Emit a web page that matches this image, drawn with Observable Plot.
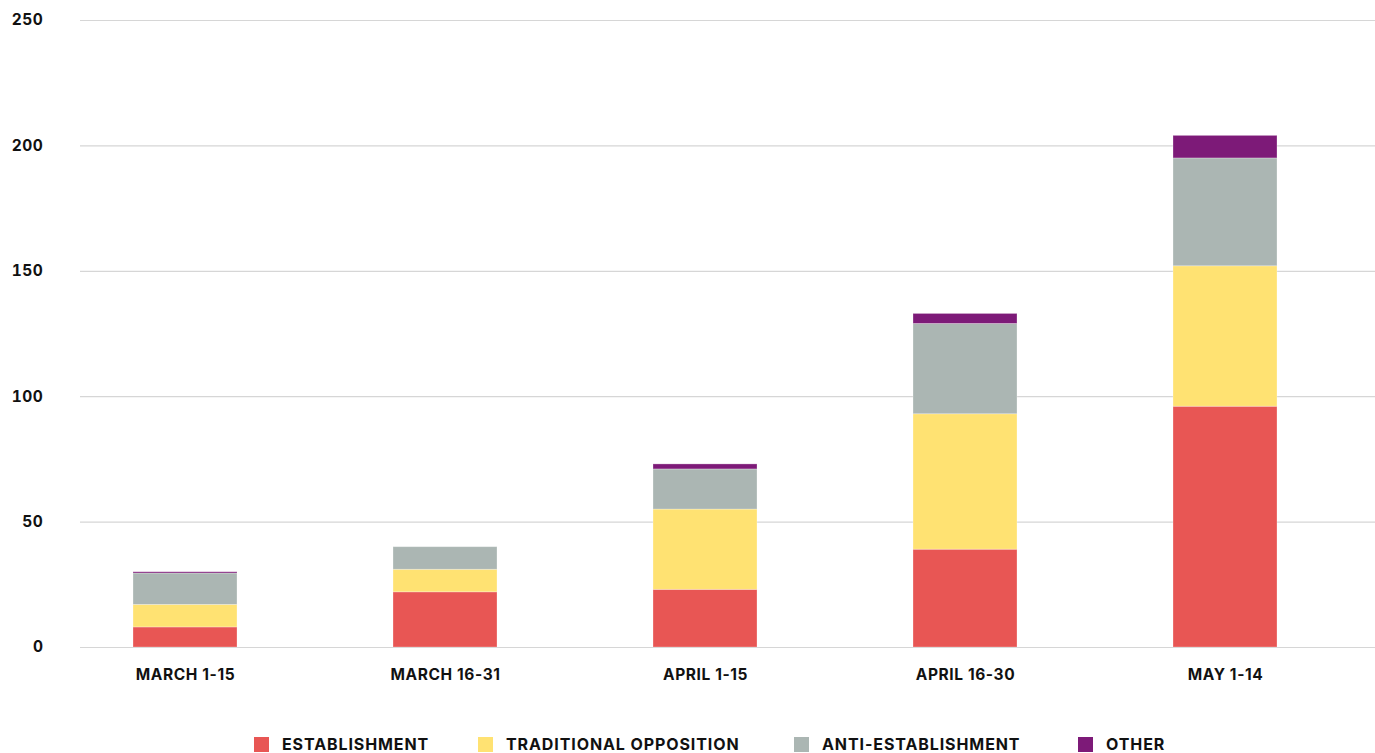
<!DOCTYPE html>
<html>
<head>
<meta charset="utf-8">
<script src="https://cdn.jsdelivr.net/npm/d3@7"></script>
<script src="https://cdn.jsdelivr.net/npm/@observablehq/plot@0.6"></script>
<style>
  html, body { margin: 0; padding: 0; background: #fff; }
  body { width: 1375px; height: 753px; overflow: hidden; font-family: Inter, "Open Sans", sans-serif; }
  #chart svg { display: block; }
  #legend { position: relative; height: 18px; margin-top: 36px; }
  .item { position: absolute; top: 0; display: flex; align-items: center; font-weight: 700; font-size: 16px; letter-spacing: 0.9px; color: #111; white-space: nowrap; line-height: 17px; }
  .sw { width: 15px; height: 15px; margin-right: 13px; }
</style>
</head>
<body>
<div id="chart"></div>
<div id="legend"></div>
<script>
const periods = ["MARCH 1-15", "MARCH 16-31", "APRIL 1-15", "APRIL 16-30", "MAY 1-14"];
const seriesNames = ["ESTABLISHMENT", "TRADITIONAL OPPOSITION", "ANTI-ESTABLISHMENT", "OTHER"];
const seriesColors = ["#E85654", "#FFE272", "#ABB6B3", "#7D1A78"];
const establishment = [8, 22, 23, 39, 96];
const traditionalOpposition = [9, 9, 32, 54, 56];
const antiEstablishment = [12.5, 9, 16, 36, 43];
const other = [0.5, 0, 2, 4, 9];
const yTicks = [0, 50, 100, 150, 200, 250];

const seriesValues = [establishment, traditionalOpposition, antiEstablishment, other];
const rows = [];
seriesNames.forEach((s, si) => {
  periods.forEach((p, pi) => rows.push({period: p, series: s, value: seriesValues[si][pi]}));
});

const chart = Plot.plot({
  width: 1375,
  height: 700,
  marginLeft: 80,
  marginRight: 0,
  marginTop: 20,
  marginBottom: 53,
  style: {fontFamily: "Inter, 'Open Sans', sans-serif", fontSize: "15.5px", fontWeight: 700, color: "#111", letterSpacing: "0.6px"},
  x: {domain: periods, range: [80, 1330], paddingInner: 0.6, paddingOuter: 0.2, label: null},
  y: {domain: [0, 250], ticks: yTicks, label: null},
  color: {domain: seriesNames, range: seriesColors},
  marks: [
    Plot.ruleY(yTicks, {stroke: "#d6d6d6", strokeWidth: 1.2}),
    Plot.barY(rows, Plot.stackY({order: seriesNames}, {x: "period", y: "value", fill: "series", z: "series", stroke: "white", strokeOpacity: 0.35, strokeWidth: 0.8})),
    Plot.axisY({ticks: yTicks, tickSize: 0, tickPadding: 37, fontWeight: 700}),
    Plot.axisX({tickSize: 0, tickPadding: 21, fontWeight: 700})
  ]
});
document.getElementById("chart").append(chart);

const lefts = [254, 478, 794, 1078];
const legend = document.getElementById("legend");
seriesNames.forEach((s, i) => {
  const it = document.createElement("div");
  it.className = "item";
  it.style.left = lefts[i] + "px";
  const sw = document.createElement("div");
  sw.className = "sw";
  sw.style.background = seriesColors[i];
  const t = document.createElement("span");
  t.textContent = s;
  it.append(sw, t);
  legend.append(it);
});
</script>
</body>
</html>
